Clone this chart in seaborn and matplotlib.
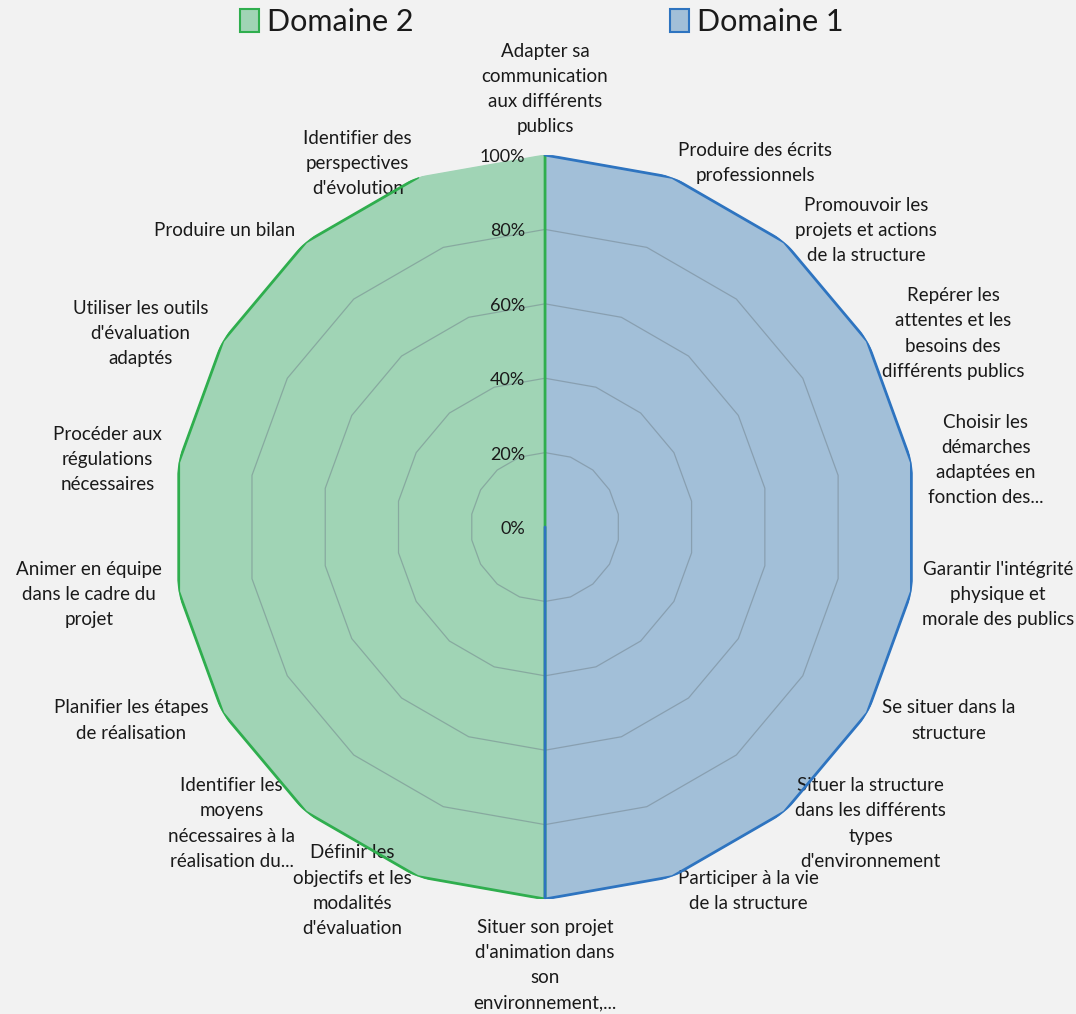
import numpy as np
import matplotlib
matplotlib.use("Agg")
import matplotlib.pyplot as plt
from matplotlib.patches import Patch
import seaborn as sns

# axes of the radar, clockwise from the top
competences = [
    "Adapter sa\ncommunication\naux différents\npublics",
    "Produire des écrits\nprofessionnels",
    "Promouvoir les\nprojets et actions\nde la structure",
    "Repérer les\nattentes et les\nbesoins des\ndifférents publics",
    "Choisir les\ndémarches\nadaptées en\nfonction des...",
    "Garantir l'intégrité\nphysique et\nmorale des publics",
    "Se situer dans la\nstructure",
    "Situer la structure\ndans les différents\ntypes\nd'environnement",
    "Participer à la vie\nde la structure",
    "Situer son projet\nd'animation dans\nson\nenvironnement,...",
    "Définir les\nobjectifs et les\nmodalités\nd'évaluation",
    "Identifier les\nmoyens\nnécessaires à la\nréalisation du...",
    "Planifier les étapes\nde réalisation",
    "Animer en équipe\ndans le cadre du\nprojet",
    "Procéder aux\nrégulations\nnécessaires",
    "Utiliser les outils\nd'évaluation\nadaptés",
    "Produire un bilan",
    "Identifier des\nperspectives\nd'évolution",
]
domaine1 = [100, 100, 100, 100, 100, 100, 100, 100, 100, 100, 0, 0, 0, 0, 0, 0, 0, 0]
domaine2 = [100, 0, 0, 0, 0, 0, 0, 0, 0, 100, 100, 100, 100, 100, 100, 100, 100, 100]
grid_levels = [20, 40, 60, 80]
tick_levels = [0, 20, 40, 60, 80, 100]

sns.set_style("white")
plt.rcParams["font.family"] = ["Lato", "DejaVu Sans"]

bg = "#f2f2f2"
green_fill, green_edge = "#a0d4b5", "#2fae4e"
blue_fill, blue_edge = "#a2bfd8", "#2e74c0"

n = len(competences)
theta = np.linspace(0, 2 * np.pi, n, endpoint=False)
theta_c = np.append(theta, theta[0])

fig = plt.figure(figsize=(10.76, 10.14), dpi=100, facecolor=bg)
ax = fig.add_axes([0.1608, 0.1134, 0.6915, 0.7337], projection="polar")
ax.set_facecolor(bg)
ax.set_theta_zero_location("N")
ax.set_theta_direction(-1)
ax.set_ylim(0, 100)
ax.grid(False)
ax.spines["polar"].set_visible(False)
ax.set_xticks([])
ax.set_yticks([])

# filled series (Domaine 2 first, Domaine 1 on top)
for vals, fc, ec in [(domaine2, green_fill, green_edge), (domaine1, blue_fill, blue_edge)]:
    r = np.append(vals, vals[0])
    ax.fill(theta_c, r, color=fc, zorder=2)
    sns.lineplot(x=theta_c, y=r, sort=False, ax=ax, color=ec, lw=2, zorder=4)

# polygonal gridlines
for lvl in grid_levels:
    ax.plot(theta_c, [lvl] * (n + 1), color="#6f808a", lw=0.9, alpha=0.5, zorder=3)

# percentage labels
for lvl in tick_levels:
    ax.annotate(f"{lvl}%", xy=(0, lvl), xytext=(-20, -2), textcoords="offset pixels",
                ha="right", va="center", fontsize=13, color="#1a1a1a", zorder=5)

# category labels
labels = []
for i, (a, lab) in enumerate(zip(theta, competences)):
    dx, dy = np.sin(a), np.cos(a)
    if abs(dx) < 0.05:
        ha = "center"
        va = "bottom" if dy > 0 else "top"
        off = (0, 20) if dy > 0 else (0, -20)
    else:
        ha = "left" if dx > 0 else "right"
        va = "center"
        off = (17 * dx, 15 * dy)
    t = ax.annotate(lab, xy=(a, 100), xytext=off, textcoords="offset pixels",
                    ha=ha, va=va, multialignment="center", fontsize=13.5,
                    linespacing=1.58, color="#1a1a1a", annotation_clip=False)
    labels.append((t, off))

# pull back any label that runs past the figure edge
fig.canvas.draw()
W = fig.bbox.width
for t, off in labels:
    bb = t.get_window_extent()
    if bb.x1 > W - 2:
        t.xyann = (off[0] - (bb.x1 - W + 2), off[1])
    elif bb.x0 < 2:
        t.xyann = (off[0] + (2 - bb.x0), off[1])

handles = [Patch(facecolor=green_fill, edgecolor=green_edge, lw=1.5),
           Patch(facecolor=blue_fill, edgecolor=blue_edge, lw=1.5)]
fig.legend(handles, ["Domaine 2", "Domaine 1"], loc="center",
           bbox_to_anchor=(0.5037, 0.978), ncol=2, frameon=False,
           prop={"size": 22}, labelcolor="#1a1a1a",
           handlelength=0.62, handleheight=0.75, handletextpad=0.26,
           columnspacing=8.4, borderpad=0.2)

fig.savefig("out.png", dpi=100, facecolor=bg)
